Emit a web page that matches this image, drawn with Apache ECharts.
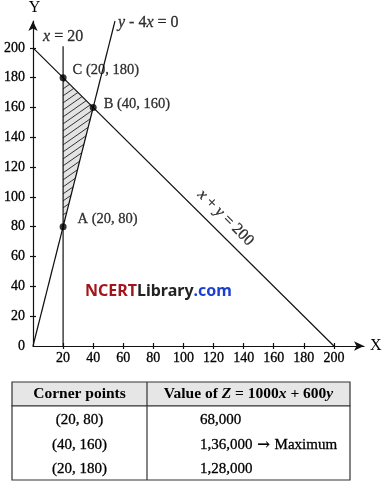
<!DOCTYPE html>
<html>
<head>
<meta charset="utf-8">
<script src="https://cdn.jsdelivr.net/npm/echarts@6/dist/echarts.min.js"></script>
<style>
html, body { margin: 0; padding: 0; background: #fff; }
#main { width: 386px; height: 498px; }
</style>
</head>
<body>
<div id="main"></div>
<script>
// corner points of the feasible region
var cornerNames = ['A', 'B', 'C'];
var cornerX = [20, 40, 20];
var cornerY = [80, 160, 180];

// constraint lines, drawn between two end points
var lineSum = [[0, 200], [200, 0]];      // x + y = 200
var lineSlope = [[0, 0], [54.5, 218]];  // y - 4x = 0
var lineX20 = [[20, 0], [20, 201]];     // x = 20

// where the line names sit
var lineLabelPos = [[20, 201], [54.5, 217], [128, 86]];

// tick labels
var xTicks = [20, 40, 60, 80, 100, 120, 140, 160, 180, 200];
var yTicks = [0, 20, 40, 60, 80, 100, 120, 140, 160, 180, 200];

// table under the graph
var tablePoints = ['(20, 80)', '(40, 160)', '(20, 180)'];
var tableValues = ['68,000', '1,36,000{a| \u2192 }Maximum', '1,28,000'];

var serif = '"Liberation Serif", "DejaVu Serif", serif';
var ink = '#000';

// hatch for the shaded region
function hatch() {
    var w = 10, h = 7;
    var c = document.createElement('canvas');
    c.width = w; c.height = h;
    var ctx = c.getContext('2d');
    ctx.fillStyle = '#e3e3e3';
    ctx.fillRect(0, 0, w, h);
    ctx.strokeStyle = '#333';
    ctx.lineWidth = 1;
    for (var k = -1; k <= 1; k++) {
        ctx.beginPath();
        ctx.moveTo(0, h + k * h);
        ctx.lineTo(w, k * h);
        ctx.stroke();
    }
    return c;
}
var hatchImg = hatch();

var myChart = echarts.init(document.getElementById('main'));

var labelOffsets = [[8, -8], [4, -3], [3, -7]];
var pointData = cornerX.map(function (x, i) {
    return {
        name: cornerNames[i],
        value: [x, cornerY[i]],
        label: { offset: labelOffsets[i] }
    };
});

var lineStyle = { color: '#111', width: 1.2 };
var bold = { textBorderColor: '#000', textBorderWidth: 0.3 };

// table graphic
var tLeft = 12, tRight = 350, tMid = 147, tTop = 382, tHead = 406, tBottom = 480;
var rowY = [420, 445, 469];
var tableEls = [
    { type: 'rect', shape: { x: tLeft, y: tTop, width: tRight - tLeft, height: tHead - tTop },
      style: { fill: '#e6e6e6', stroke: '#333', lineWidth: 1.2 } },
    { type: 'rect', shape: { x: tLeft, y: tHead, width: tRight - tLeft, height: tBottom - tHead },
      style: { fill: '#fff', stroke: '#333', lineWidth: 1.2 } },
    { type: 'line', shape: { x1: tMid, y1: tTop, x2: tMid, y2: tBottom },
      style: { stroke: '#333', lineWidth: 1.2 } },
    { type: 'text', x: (tLeft + tMid) / 2, y: (tTop + tHead) / 2,
      style: { text: 'Corner points', font: 'bold 15.5px ' + serif, fill: ink, align: 'center', verticalAlign: 'middle' } },
    { type: 'text', x: (tMid + tRight) / 2, y: (tTop + tHead) / 2,
      style: { text: '{b|Value of }{bi|Z}{b| = 1000}{bi|x}{b| + 600}{bi|y}', align: 'center', verticalAlign: 'middle',
               rich: { b: { font: 'bold 15.5px ' + serif, fill: ink }, bi: { font: 'italic bold 15.5px ' + serif, fill: ink } } } }
];
tablePoints.forEach(function (p, i) {
    tableEls.push({ type: 'text', x: (tLeft + tMid) / 2, y: rowY[i],
        style: { text: p, font: '15px ' + serif, fill: ink, align: 'center', verticalAlign: 'middle', stroke: '#000', lineWidth: 0.3 } });
    tableEls.push({ type: 'text', x: 200, y: rowY[i],
        style: { text: tableValues[i], font: '15px ' + serif, fill: ink, align: 'left', verticalAlign: 'middle', stroke: '#000', lineWidth: 0.3,
                 rich: { a: { font: '15px "DejaVu Serif", serif', fill: ink } } } });
});

var option = {
    animation: false,
    grid: { left: 33, right: 22, top: 18, bottom: 152 },
    xAxis: [{
        type: 'value', min: 0, max: 220,
        name: 'X', nameGap: 6,
        nameTextStyle: { fontFamily: serif, fontSize: 16, color: ink, verticalAlign: 'middle' },
        axisLine: { show: true, onZero: false, lineStyle: lineStyle, symbol: ['none', 'arrow'], symbolSize: [7, 10] },
        axisTick: { show: true, length: 3, lineStyle: lineStyle, customValues: xTicks },
        axisLabel: Object.assign({ margin: 5, customValues: xTicks, fontFamily: serif, fontSize: 14, color: ink }, bold),
        splitLine: { show: false }
    }, {
        type: 'value', min: 0, max: 220, position: 'bottom',
        axisLine: { show: false },
        axisTick: { show: true, inside: true, length: 3, lineStyle: lineStyle, customValues: xTicks },
        axisLabel: { show: false },
        splitLine: { show: false }
    }],
    yAxis: [{
        type: 'value', min: 0, max: 218,
        name: 'Y', nameGap: 5,
        nameTextStyle: { fontFamily: serif, fontSize: 16, color: ink, align: 'center', padding: [0, 0, 0, 3] },
        axisLine: { show: true, onZero: false, lineStyle: lineStyle, symbol: ['none', 'arrow'], symbolSize: [7, 10] },
        axisTick: { show: true, length: 3, lineStyle: lineStyle, customValues: yTicks.slice(1) },
        axisLabel: Object.assign({ margin: 8, customValues: yTicks, fontFamily: serif, fontSize: 14, color: ink }, bold),
        splitLine: { show: false }
    }, {
        type: 'value', min: 0, max: 218, position: 'left',
        axisLine: { show: false },
        axisTick: { show: true, inside: true, length: 3, lineStyle: lineStyle, customValues: yTicks.slice(1) },
        axisLabel: { show: false },
        splitLine: { show: false }
    }],
    series: [
        {
            type: 'custom',
            silent: true,
            data: [[0, 0]],
            renderItem: function (params, api) {
                var pts = cornerX.map(function (x, i) { return api.coord([x, cornerY[i]]); });
                return {
                    type: 'polygon',
                    shape: { points: pts },
                    style: { fill: { image: hatchImg, repeat: 'repeat' }, stroke: null }
                };
            },
            z: 1
        },
        { type: 'line', data: lineSum, symbol: 'none', lineStyle: lineStyle, silent: true, clip: false, z: 2 },
        { type: 'line', data: lineSlope, symbol: 'none', lineStyle: lineStyle, silent: true, clip: false, z: 2 },
        { type: 'line', data: lineX20, symbol: 'none', lineStyle: lineStyle, silent: true, clip: false, z: 2 },
        {
            type: 'scatter',
            data: pointData,
            symbolSize: 7,
            itemStyle: { color: '#000' },
            clip: false,
            label: Object.assign({
                show: true, position: 'right', distance: 3,
                formatter: function (p) { return p.name + ' (' + p.value[0] + ', ' + p.value[1] + ')'; },
                fontFamily: serif, fontSize: 14.5, color: ink
            }, bold),
            z: 5
        },
        {
            type: 'scatter',
            symbolSize: 0,
            silent: true,
            clip: false,
            data: [
                { value: lineLabelPos[0], label: { position: 'top', distance: 2, formatter: '{i|x} = 20' } },
                { value: lineLabelPos[1], label: { position: 'right', distance: 3, formatter: '{i|y} - 4{i|x} = 0' } },
                { value: lineLabelPos[2], label: { position: 'inside', rotate: -45, formatter: '{i|x} + {i|y} = 200' } }
            ],
            label: Object.assign({
                show: true, fontFamily: serif, fontSize: 16, color: ink,
                rich: { i: Object.assign({ fontFamily: serif, fontSize: 16, fontStyle: 'italic', color: ink }, bold) }
            }, bold),
            z: 5
        }
    ],
    graphic: [
        {
            type: 'text', left: 85, top: 283,
            style: {
                text: '{r|NCERT}{k|Library}{c|.com}',
                rich: {
                    r: { font: 'bold 16px "Noto Sans", sans-serif', fill: '#a3151b' },
                    k: { font: 'bold 16px "Noto Sans", sans-serif', fill: '#222' },
                    c: { font: 'bold 16px "Noto Sans", sans-serif', fill: '#1d3fcf' }
                }
            }
        },
        { type: 'group', children: tableEls }
    ]
};

myChart.setOption(option);
</script>
</body>
</html>
